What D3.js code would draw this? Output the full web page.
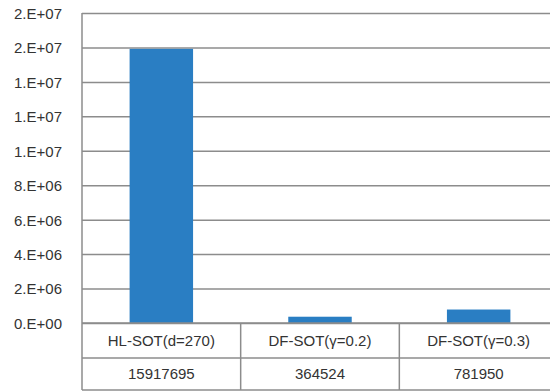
<!DOCTYPE html>
<html>
<head>
<meta charset="utf-8">
<script src="https://cdn.jsdelivr.net/npm/d3@7"></script>
<style>
  html, body { margin: 0; padding: 0; background: #fff; }
  svg { display: block; }
  text { font-family: "Liberation Sans", Arial, sans-serif; }
</style>
</head>
<body>
<script>
// Series data
const categories = ["HL-SOT(d=270)", "DF-SOT(γ=0.2)", "DF-SOT(γ=0.3)"];
const values = [15917695, 364524, 781950];
// Y axis ticks (Excel-style scientific labels, rounded to one digit)
const tickValues = [0, 2e6, 4e6, 6e6, 8e6, 1e7, 1.2e7, 1.4e7, 1.6e7, 1.8e7];
const tickLabels = ["0.E+00", "2.E+06", "4.E+06", "6.E+06", "8.E+06", "1.E+07", "1.E+07", "1.E+07", "2.E+07", "2.E+07"];

const W = 550, H = 392;
const plotLeft = 82, plotRight = 558, plotTop = 13, zeroY = 323;
const row1 = 358, row2 = 390;
const gridColor = "#8c8c8c";
const textColor = "#333333";
const fontSize = "15px";

const svg = d3.select("body").append("svg").attr("width", W).attr("height", H);

const x = d3.scaleBand().domain(categories).range([plotLeft, plotRight]).padding(0);
const y = d3.scaleLinear().domain([0, 1.8e7]).range([zeroY, plotTop]);

// Gridlines + tick labels via axis
const yAxis = d3.axisLeft(y)
  .tickValues(tickValues)
  .tickFormat((d, i) => tickLabels[i])
  .tickSize(-(plotRight - plotLeft))
  .tickPadding(20);

const gy = svg.append("g").attr("transform", `translate(${plotLeft},0)`).call(yAxis);
gy.select(".domain").remove();
gy.selectAll(".tick line").attr("stroke", gridColor).attr("stroke-width", 1.5);
gy.selectAll(".tick text")
  .attr("fill", textColor)
  .style("font-size", fontSize)
  .attr("dy", "0.36em");

// Bars
svg.append("g").selectAll("rect")
  .data(values)
  .join("rect")
  .attr("x", (d, i) => x(categories[i]) + x.bandwidth() * 0.3)
  .attr("width", x.bandwidth() * 0.4)
  .attr("y", d => y(d))
  .attr("height", d => y(0) - y(d))
  .attr("fill", "#2a7ec3");

// Data table beneath the plot
const table = svg.append("g");
[zeroY, row1, row2].forEach(ry => {
  table.append("line")
    .attr("x1", plotLeft).attr("x2", plotRight).attr("y1", ry).attr("y2", ry)
    .attr("stroke", gridColor).attr("stroke-width", 1.5);
});
// Left axis line spans plot and table
table.append("line")
  .attr("x1", plotLeft).attr("x2", plotLeft).attr("y1", plotTop).attr("y2", row2)
  .attr("stroke", gridColor).attr("stroke-width", 1.5);
// Column dividers
categories.slice(1).forEach(c => {
  table.append("line")
    .attr("x1", x(c)).attr("x2", x(c)).attr("y1", zeroY).attr("y2", row2)
    .attr("stroke", gridColor).attr("stroke-width", 1.5);
});

table.selectAll("text.cat")
  .data(categories)
  .join("text")
  .attr("class", "cat")
  .attr("x", d => x(d) + x.bandwidth() / 2)
  .attr("y", (zeroY + row1) / 2)
  .attr("dy", "0.36em")
  .attr("text-anchor", "middle")
  .attr("fill", textColor)
  .style("font-size", fontSize)
  .text(d => d);

table.selectAll("text.val")
  .data(values)
  .join("text")
  .attr("class", "val")
  .attr("x", (d, i) => x(categories[i]) + x.bandwidth() / 2)
  .attr("y", (row1 + row2) / 2)
  .attr("dy", "0.36em")
  .attr("text-anchor", "middle")
  .attr("fill", textColor)
  .style("font-size", fontSize)
  .text(d => d);
</script>
</body>
</html>
